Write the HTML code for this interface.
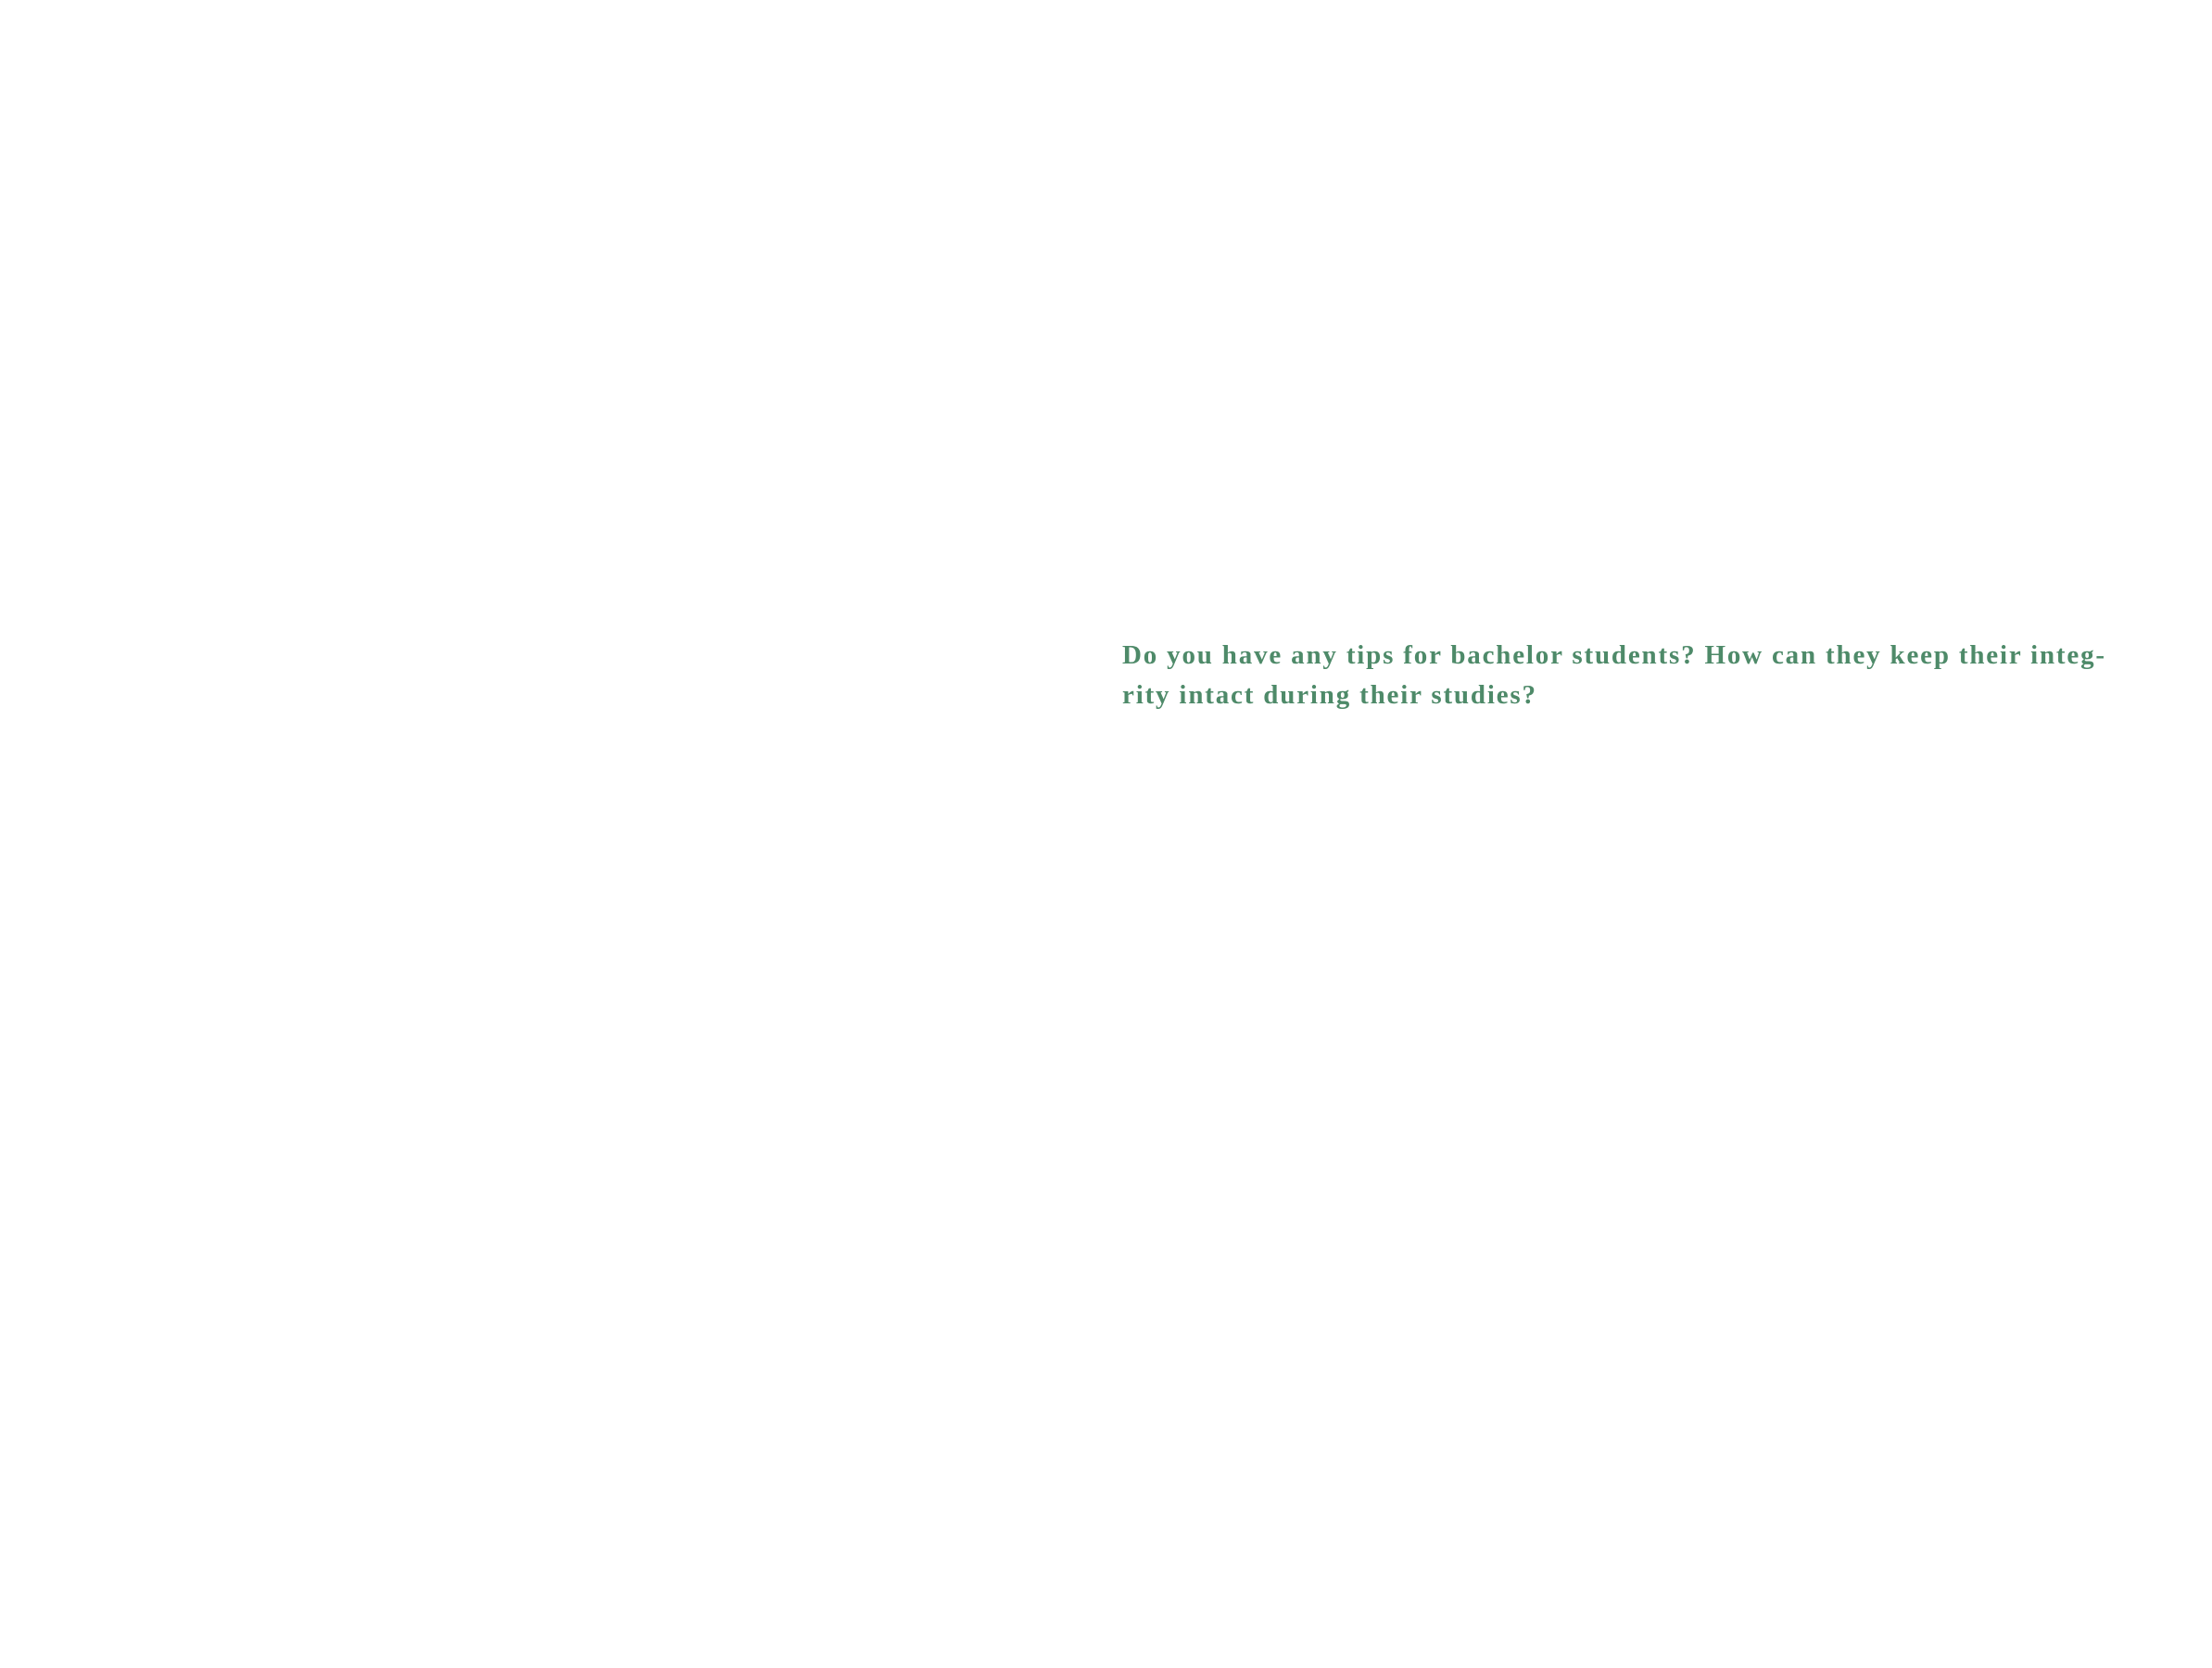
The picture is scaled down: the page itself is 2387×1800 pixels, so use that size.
<!DOCTYPE html>
<html><head><style>
html,body{margin:0;padding:0;background:#fff;}
body{width:2387px;height:1800px;position:relative;overflow:hidden;}
.t{position:absolute;left:1211px;font-family:"Liberation Serif",serif;font-weight:bold;font-size:29px;color:#4e8a69;white-space:nowrap;letter-spacing:1.82px;}
</style></head><body>
<div class="t" style="top:691px">Do you have any tips for bachelor students? How can they keep their integ-</div>
<div class="t" style="top:734px">rity intact during their studies?</div>
</body></html>
